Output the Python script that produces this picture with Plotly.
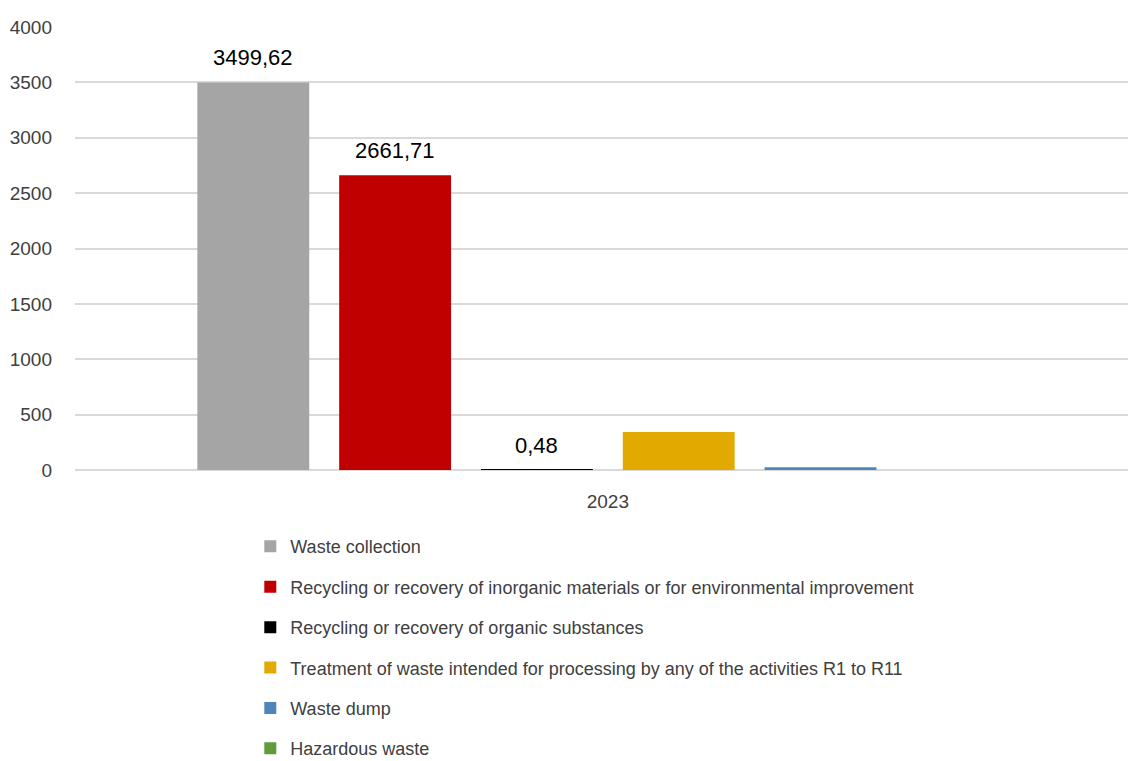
import plotly.graph_objects as go

categories = ["2023"]
series_names = [
    "Waste collection",
    "Recycling or recovery of inorganic materials or for environmental improvement",
    "Recycling or recovery of organic substances",
    "Treatment of waste intended for processing by any of the activities R1 to R11",
    "Waste dump",
    "Hazardous waste",
]
series_values = [3499.62, 2661.71, 0.48, 343, 25, 0]
series_labels = ["3499,62", "2661,71", "0,48", "", "", ""]
series_colors = ["#a5a5a5", "#c00000", "#000000", "#e2aa00", "#4e86b9", "#5f9c3a"]

y_ticks = [0, 500, 1000, 1500, 2000, 2500, 3000, 3500, 4000]

FONT = "Liberation Sans, Arial, sans-serif"
BARGAP = 0.192
BARGROUPGAP = 0.211

fig = go.Figure()
n = len(series_names)
for i, (name, val, lab, col) in enumerate(zip(series_names, series_values, series_labels, series_colors)):
    fig.add_trace(go.Bar(
        x=categories, y=[val], name=name, marker=dict(color=col, line=dict(width=0)),
        legendgroup=name,
    ))
    if lab:
        fig.add_annotation(
            x=(i - (n - 1) / 2) * (1 - BARGAP) / n, y=val, xref="x", yref="y",
            text=lab, showarrow=False, yanchor="bottom", yshift=10,
            font=dict(family=FONT, size=22, color="#000000"),
        )

fig.update_layout(
    width=1130, height=761,
    margin=dict(l=75, r=2, t=27, b=291, autoexpand=False),
    paper_bgcolor="white", plot_bgcolor="white",
    barmode="group", bargap=BARGAP, bargroupgap=BARGROUPGAP,
    font=dict(family=FONT, color="#404040"),
    showlegend=True,
    legend=dict(
        orientation="v", xref="container", x=0.2215, xanchor="left",
        yref="container", y=0.306, yanchor="top",
        font=dict(family=FONT, size=18, color="#404040"),
        tracegroupgap=14,
    ),
)
fig.update_xaxes(
    range=[-0.506, 0.494], showgrid=False, zeroline=False, showline=False,
    tickfont=dict(family=FONT, size=19, color="#404040"), ticks="",
    ticklabelstandoff=18,
)
fig.update_yaxes(
    range=[0, 4000], tickvals=y_ticks, ticktext=[str(v) for v in y_ticks],
    showgrid=True, gridcolor="#d9d9d9", gridwidth=1.5,
    zeroline=True, zerolinecolor="#d9d9d9", zerolinewidth=1.5,
    showline=False, ticks="",
    tickfont=dict(family=FONT, size=19, color="#404040"),
    ticklabelstandoff=22,
)

fig.write_html("out.html")
